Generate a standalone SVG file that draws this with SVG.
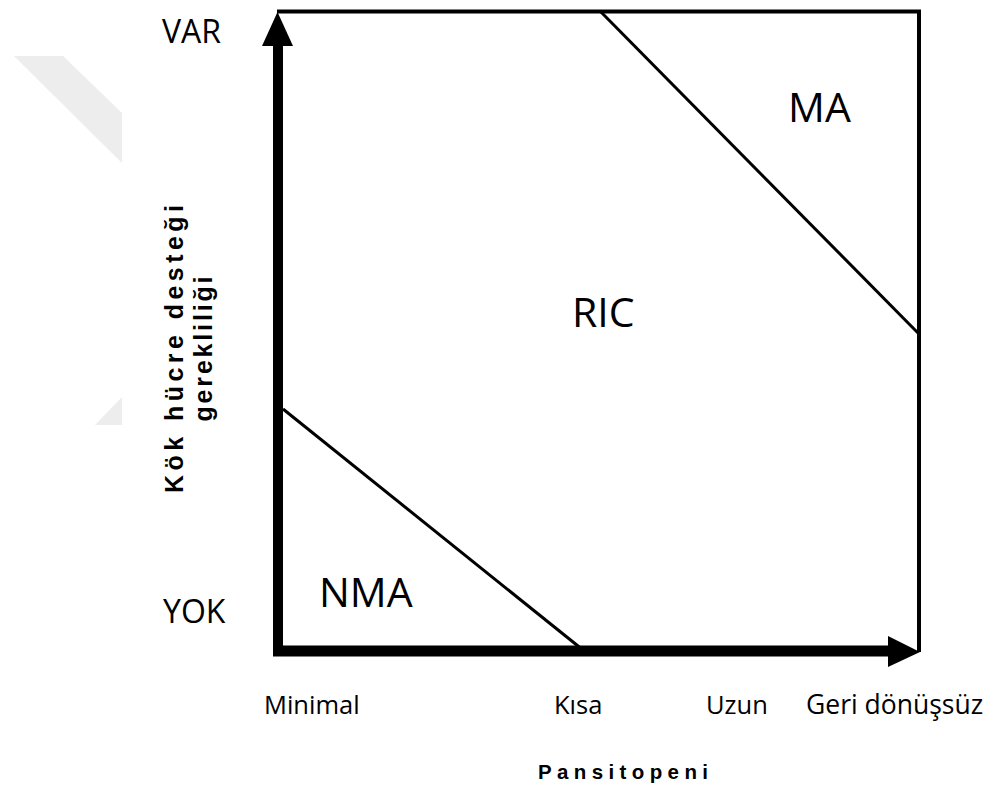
<svg xmlns="http://www.w3.org/2000/svg" width="1008" height="795" viewBox="0 0 1008 795">
<style>
.lbl{font-family:"Open Sans","Liberation Sans",sans-serif;fill:#000}
.big{font-size:41px}
.mid{font-size:32px}
.sm{font-size:25.5px}
.bold{font-family:"Liberation Sans",Arial,sans-serif;font-weight:bold;fill:#000}
.ln{stroke:#000;fill:none}
</style>
<rect width="1008" height="795" fill="#fff"/>
<g id="watermark" fill="#ededed">
<polygon points="14,56 63,56 122,113 122,163"/>
<polygon points="95,425 122,397 122,425"/>
</g>
<g id="frame">
<line class="ln" x1="277" y1="11.5" x2="921" y2="11.5" stroke-width="4"/>
<line class="ln" x1="919" y1="10" x2="919" y2="652" stroke-width="4"/>
</g>
<g id="connectors">
<line class="ln" x1="278" y1="656" x2="278" y2="44" stroke-width="10"/>
<polygon points="262,46 277.5,12 293,46" fill="#000"/>
<line class="ln" x1="273" y1="651" x2="890" y2="651" stroke-width="11"/>
<polygon points="888,636 920,652 888,667" fill="#000"/>
<line class="ln" x1="283" y1="409" x2="583" y2="650" stroke-width="3"/>
<line class="ln" x1="600" y1="11" x2="919" y2="334" stroke-width="3"/>
</g>
<g id="node-var"><text class="lbl mid" x="162" y="43">VAR</text></g>
<g id="node-yok"><text class="lbl mid" x="163" y="623">YOK</text></g>
<g id="node-ma"><text class="lbl big" x="788" y="122">MA</text></g>
<g id="node-ric"><text class="lbl big" x="572" y="327">RIC</text></g>
<g id="node-nma"><text class="lbl big" x="319" y="607">NMA</text></g>
<g id="x-ticks">
<text class="lbl sm" x="264" y="714">Minimal</text>
<text class="lbl sm" x="554" y="714">Kısa</text>
<text class="lbl sm" x="706" y="714">Uzun</text>
<text class="lbl" x="806" y="714" font-size="26.5">Geri dönüşsüz</text>
</g>
<g id="x-title"><text class="bold" x="623" y="779" font-size="20.5" text-anchor="middle" textLength="170" lengthAdjust="spacing">Pansitopeni</text></g>
<g id="y-title" transform="translate(183,349) rotate(-90)">
<text class="bold" x="0" y="0" font-size="25" text-anchor="middle" textLength="288" lengthAdjust="spacing">Kök hücre desteği</text>
<text class="bold" x="0" y="29" font-size="25" text-anchor="middle" textLength="145" lengthAdjust="spacing">gerekliliği</text>
</g>
</svg>
